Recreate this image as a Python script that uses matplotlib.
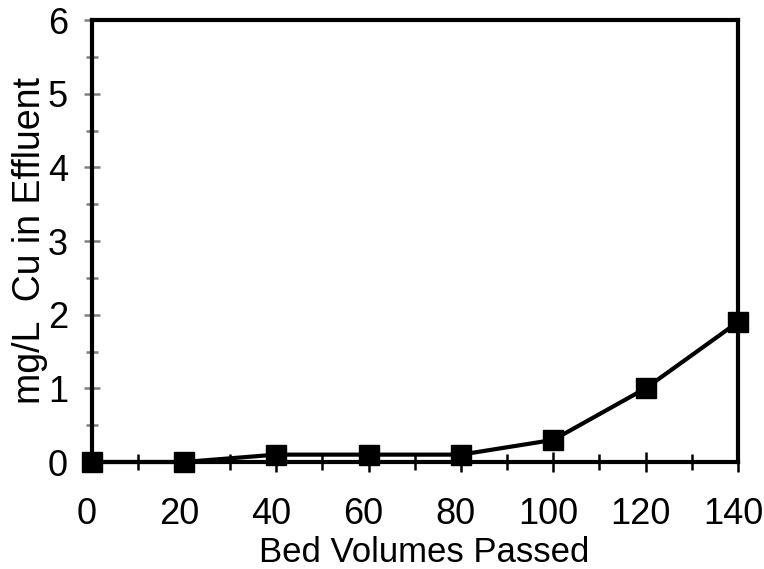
import matplotlib
matplotlib.use("Agg")
import matplotlib.pyplot as plt
from matplotlib.ticker import MultipleLocator
from matplotlib.transforms import ScaledTranslation

plt.rcParams['font.family'] = ['Liberation Sans', 'DejaVu Sans']

bed_volumes = [0, 20, 40, 60, 80, 100, 120, 140]
cu_mg_l = [0, 0, 0.1, 0.1, 0.1, 0.3, 1.0, 1.9]
x_ticks = [0, 20, 40, 60, 80, 100, 120, 140]
y_ticks = [0, 1, 2, 3, 4, 5, 6]

fig = plt.figure(figsize=(7.64, 5.69), dpi=100)
ax = fig.add_axes([91.5 / 764, 1 - 462 / 569, (738 - 91.5) / 764, (462 - 20) / 569])

ax.plot(bed_volumes, cu_mg_l, color='black', lw=3, marker='s', ms=14.5,
        clip_on=False, zorder=5)

ax.set_xlim(0, 140)
ax.set_ylim(0, 6)
ax.set_xticks(x_ticks)
ax.set_yticks(y_ticks)
ax.xaxis.set_minor_locator(MultipleLocator(10))
ax.yaxis.set_minor_locator(MultipleLocator(0.5))

for s in ax.spines.values():
    s.set_linewidth(3)

ax.tick_params(axis='x', which='major', direction='inout', length=14, width=1.8,
               labelsize=26, pad=18)
ax.tick_params(axis='x', which='minor', direction='inout', length=11, width=1.8)
ax.tick_params(axis='y', which='major', direction='inout', length=12, width=1.8,
               color='#808080', labelsize=26, pad=11)
ax.tick_params(axis='y', which='minor', direction='inout', length=8, width=1.8,
               color='#808080')

# x labels sit slightly left of their ticks in the original
shift = ScaledTranslation(-5 / 100, 0, fig.dpi_scale_trans)
for lbl in ax.xaxis.get_majorticklabels():
    lbl.set_transform(lbl.get_transform() + shift)

ax.set_xlabel('Bed Volumes Passed', fontsize=25, labelpad=3)
ax.xaxis.label.set_x(0.5 + 9 / 646.5)
ax.set_ylabel('mg/L  Cu in Effluent', fontsize=27, labelpad=0)

fig.savefig('out.png', dpi=100)
